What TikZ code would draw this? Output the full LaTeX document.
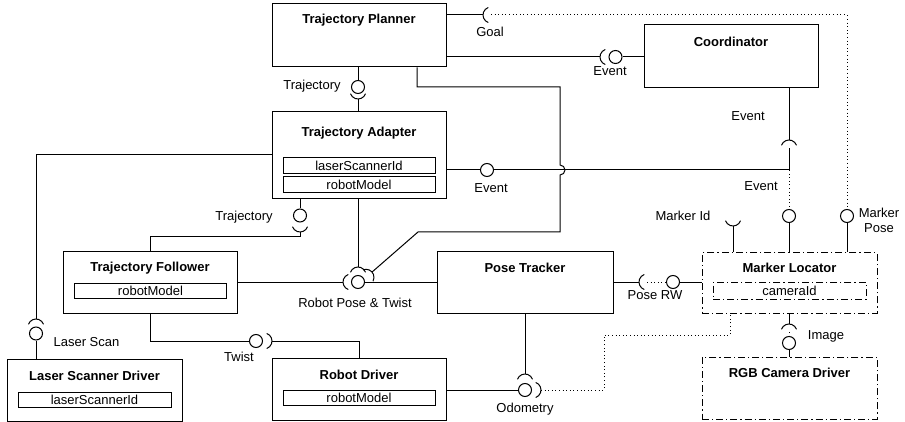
\documentclass[tikz,border=0pt]{standalone}
\usepackage{fontspec}
\setmainfont{Liberation Sans}
\usetikzlibrary{calc}
\newcommand\lblsize{\fontsize{13}{15}\selectfont}
% socket (required interface): half-open arc around centre #1, bulging towards angle #2
\newcommand\socketarc[2]{\draw[wire] ($(#1)+({#2-70}:8)$) arc[start angle={#2-70}, end angle={#2+70}, radius=8];}
\tikzset{
  comp/.style={draw, line width=1pt, minimum width=174pt, inner sep=0pt},
  dashdotbox/.style={dash pattern=on 7pt off 3pt on 1.2pt off 3pt},
  attr/.style={draw, line width=0.9pt, minimum width=152pt, minimum height=15.5pt, inner sep=0pt, font=\lblsize},
  title/.style={font=\lblsize\bfseries, inner sep=0pt},
  lbl/.style={font=\lblsize, inner sep=0pt, align=center},
  ball/.style={draw, circle, line width=1pt, minimum size=13pt, inner sep=0pt, fill=white},
  wire/.style={line width=1pt},
  dots/.style={line width=1pt, dash pattern=on 1pt off 2.6pt},
}
\begin{document}
\begin{tikzpicture}[x=1pt, y=1pt, yscale=-1]
\useasboundingbox (0,0) rectangle (905,422);

% ---------- components ----------
\node[comp, minimum height=63pt] (planner) at (359,35.5) {};
\node[title] (plannerT) at ($(planner.north)+(0,17)$) {Trajectory Planner};

\node[comp, minimum height=63pt] (coord) at (731,56.5) {};
\node[title] (coordT) at ($(coord.north)+(0,17)$) {Coordinator};

\node[comp, minimum height=87pt] (adapter) at (359,155.5) {};
\node[title] (adapterT) at ($(adapter.north)+(0,22)$) {Trajectory Adapter};
\node[attr] (adapterA) at (359,165.5) {laserScannerId};
\node[attr] (adapterB) at (359,184.5) {robotModel};

\node[comp, minimum height=61pt] (follower) at (150,282.5) {};
\node[title] (followerT) at ($(follower.north)+(0,16.5)$) {Trajectory Follower};
\node[attr] (followerA) at (150.5,291) {robotModel};

\node[comp, minimum width=176pt, minimum height=61pt] (posetr) at (525,282.5) {};
\node[title] (posetrT) at ($(posetr.north)+(0,16)$) {Pose Tracker};

\node[comp, dashdotbox, minimum width=175pt, minimum height=60pt] (markerloc) at (789.5,283) {};
\node[title] (markerlocT) at ($(markerloc.north)+(0,15.5)$) {Marker Locator};
\node[attr, dashdotbox, minimum width=153pt, minimum height=17pt] (markerlocA) at (789.5,290.5) {cameraId};

\node[comp, minimum width=175pt, minimum height=62pt] (lsd) at (94.5,390) {};
\node[title] (lsdT) at ($(lsd.north)+(0,17)$) {Laser Scanner Driver};
\node[attr, minimum width=153pt] (lsdA) at (94.5,400) {laserScannerId};

\node[comp, minimum height=62pt] (robotdrv) at (359,389) {};
\node[title] (robotdrvT) at ($(robotdrv.north)+(0,17)$) {Robot Driver};
\node[attr] (robotdrvA) at (359,398) {robotModel};

\node[comp, dashdotbox, minimum width=175pt, minimum height=62pt] (rgb) at (789.5,388) {};
\node[title] (rgbT) at ($(rgb.north)+(0,16.5)$) {RGB Camera Driver};

% ---------- provided interfaces (balls) ----------
\node[ball] (bEvC) at (615.5,57) {};
\node[ball] (bTraj1) at (358,87) {};
\node[ball] (bEvTA) at (487,170) {};
\node[ball] (bEvML) at (789,216) {};
\node[ball] (bMPose) at (847,216) {};
\node[ball] (bTraj2) at (300,215.5) {};
\node[ball] (bLaser) at (36,333.5) {};
\node[ball] (bRP) at (358,282) {};
\node[ball] (bTwist) at (256,341) {};
\node[ball] (bOdo) at (525,390) {};
\node[ball] (bPoseRW) at (673,282) {};
\node[ball] (bImage) at (789,343) {};

% ---------- required interfaces (socket centres) ----------
\coordinate (sGoal) at (491,15);
\coordinate (sEvC) at (608,57);
\coordinate (sTraj1) at (358,91);
\coordinate (sTraj2) at (300,224);
\coordinate (sLaser) at (36,327);
\coordinate (sEvCo) at (789,148);
\coordinate (sRPtf) at (351,282);
\coordinate (sRPta) at (358,275);
\coordinate (sRPpl) at (366,277.3);
\coordinate (sTwist) at (264,341);
\coordinate (sOdoT) at (525,382);
\coordinate (sOdoR) at (533,390);
\coordinate (sPoseRW) at (647,282);
\coordinate (sMarkerId) at (733,218);
\coordinate (sImage) at (789,332);

\socketarc{sGoal}{180}
\socketarc{sEvC}{180}
\socketarc{sTraj1}{90}
\socketarc{sTraj2}{90}
\socketarc{sLaser}{270}
\socketarc{sEvCo}{270}
\socketarc{sRPtf}{180}
\socketarc{sRPta}{270}
\socketarc{sRPpl}{-41}
\socketarc{sTwist}{0}
\socketarc{sOdoT}{270}
\socketarc{sOdoR}{0}
\socketarc{sPoseRW}{180}
\socketarc{sMarkerId}{90}
\socketarc{sImage}{270}

% ---------- route corners ----------
\coordinate (plA) at (417,87);
\coordinate (plB) at (560,87);
\coordinate (plC) at (560,232);
\coordinate (plD) at (418,232);
\coordinate (hop) at (560,170);
\coordinate (lA) at (36,155);
\coordinate (odoK) at (604,335);

% ---------- connectors ----------
% goal
\draw[wire] (planner.east |- sGoal) -- ($(sGoal)+(-8,0)$);
\draw[dots] (sGoal) -| (bMPose.north);
% planner <- coordinator event
\draw[wire] (planner.east |- sEvC) -- ($(sEvC)+(-8,0)$);
\draw[wire] (bEvC.east) -- (coord.west |- bEvC);
% trajectory planner -> adapter
\draw[wire] (bTraj1 |- planner.south) -- (bTraj1.north);
\draw[wire] ($(sTraj1)+(0,8)$) -- (sTraj1 |- adapter.north);
% planner robot pose
\draw[wire] (plA |- planner.south) -- (plA) -- (plB) -- ($(hop)+(0,-5)$)
  arc[start angle=-90, end angle=90, radius=5] -- (plC) -- (plD) -- ($(sRPpl)+(-41:8)$);
% adapter event
\draw[wire] (adapter.east |- bEvTA) -- (bEvTA.west);
\draw[wire] (bEvTA.east) -- (sEvCo |- bEvTA) -- (sEvCo);
\draw[wire] (coord.south -| sEvCo) -- ($(sEvCo)+(0,-8)$);
\draw[dots] (sEvCo |- bEvTA) -- (bEvML.north);
\draw[wire] (bEvML.south) -- (bEvML |- markerloc.north);
% marker pose / marker id
\draw[wire] (bMPose.south) -- (bMPose |- markerloc.north);
\draw[wire] ($(sMarkerId)+(0,8)$) -- (sMarkerId |- markerloc.north);
% laser scan
\draw[wire] (adapter.west |- lA) -- (lA) -- ($(sLaser)+(0,-8)$);
\draw[wire] (bLaser.south) -- (bLaser |- lsd.north);
% trajectory adapter -> follower
\draw[wire] (bTraj2 |- adapter.south) -- (bTraj2.north);
\draw[wire] ($(sTraj2)+(0,8)$) -- ++(0,5) -| (follower.north);
% robot pose & twist
\draw[wire] (follower.east |- sRPtf) -- ($(sRPtf)+(-8,0)$);
\draw[wire] (bRP.east) -- (posetr.west |- bRP);
\draw[wire] (sRPta |- adapter.south) -- ($(sRPta)+(0,-8)$);
% twist
\draw[wire] (follower.south) |- (bTwist.west);
\draw[wire] ($(sTwist)+(8,0)$) -| (robotdrv.north);
% odometry
\draw[wire] (posetr.south) -- ($(sOdoT)+(0,-8)$);
\draw[wire] (robotdrv.east |- bOdo) -- (bOdo.west);
\draw[dots] ($(sOdoR)+(8,0)$) -| (odoK) -| ([xshift=-59.5pt]markerloc.south);
% pose rw
\draw[wire] (posetr.east |- sPoseRW) -- ($(sPoseRW)+(-8,0)$);
\draw[dots] (sPoseRW) -- (bPoseRW.west);
\draw[wire] (bPoseRW.east) -- (markerloc.west |- bPoseRW);
% image
\draw[wire] (markerloc.south -| sImage) -- ($(sImage)+(0,-8)$);
\draw[dots] (sImage) -- (bImage.north);
\draw[wire] (bImage.south) -- (bImage |- rgb.north);

% ---------- interface labels ----------
\node[lbl] (tGoal) at (490,32) {Goal};
\node[lbl] (tEvC) at (610,71) {Event};
\node[lbl] (tTraj1) at (312,86) {Trajectory};
\node[lbl] (tEvTA) at (491,188) {Event};
\node[lbl] (tEvCo) at (748,116) {Event};
\node[lbl] (tEvML) at (761,186) {Event};
\node[lbl] (tMarkerId) at (683,216) {Marker Id};
\node[lbl] (tMPose) at (879,220) {Marker\\Pose};
\node[lbl] (tTraj2) at (244,217) {Trajectory};
\node[lbl] (tRP) at (355,303) {Robot Pose \& Twist};
\node[lbl] (tPoseRW) at (655,295) {Pose RW};
\node[lbl] (tLaser) at (86.5,342) {Laser Scan};
\node[lbl] (tTwist) at (239,357) {Twist};
\node[lbl] (tImage) at (826,336) {Image};
\node[lbl] (tOdo) at (525,409) {Odometry};
\end{tikzpicture}
\end{document}
